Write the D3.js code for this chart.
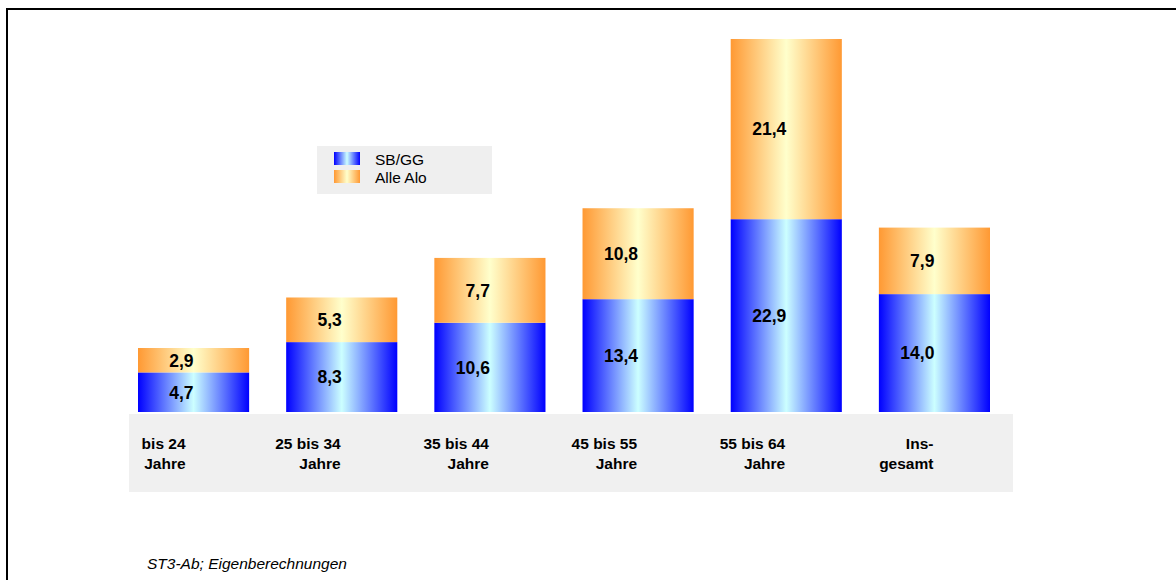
<!DOCTYPE html>
<html>
<head>
<meta charset="utf-8">
<script src="https://cdn.jsdelivr.net/npm/d3@7"></script>
<style>
  body { margin: 0; background: #fff; }
  svg { display: block; font-family: "Liberation Sans", Arial, sans-serif; }
</style>
</head>
<body>
<svg class="chart" width="1176" height="580"></svg>
<script>
/* data */
const categories = ['bis 24 Jahre', '25 bis 34 Jahre', '35 bis 44 Jahre', '45 bis 55 Jahre', '55 bis 64 Jahre', 'Insgesamt']
const catLines = [['bis 24', 'Jahre'], ['25 bis 34', 'Jahre'], ['35 bis 44', 'Jahre'], ['45 bis 55', 'Jahre'], ['55 bis 64', 'Jahre'], ['Ins-', 'gesamt']]
const sbgg = [4.7, 8.3, 10.6, 13.4, 22.9, 14.0]
const alleAlo = [2.9, 5.3, 7.7, 10.8, 21.4, 7.9]
const seriesNames = ['SB/GG', 'Alle Alo']
const source = 'ST3-Ab; Eigenberechnungen'

const fmt = v => v.toFixed(1).replace('.', ',')

const svg = d3.select('.chart')

// gradients
const defs = svg.append('defs')
const grads = [
  { id: 'gBlue', edge: '#0000ff', mid: '#ccffff' },
  { id: 'gOrange', edge: '#ff9933', mid: '#ffffcc' }
]
grads.forEach(g => {
  const lg = defs.append('linearGradient').attr('id', g.id)
    .attr('x1', '0%').attr('x2', '100%').attr('y1', '0%').attr('y2', '0%')
  lg.append('stop').attr('offset', '0%').attr('stop-color', g.edge)
  lg.append('stop').attr('offset', '50%').attr('stop-color', g.mid)
  lg.append('stop').attr('offset', '100%').attr('stop-color', g.edge)
})

// frame (only top and left visible)
svg.append('path')
  .attr('d', 'M7,582 L7,9 L1180,9')
  .attr('fill', 'none').attr('stroke', '#000').attr('stroke-width', 2)

const x = d3.scaleBand().domain(categories).range([138, 990]).paddingInner(0.25).paddingOuter(0)
const y = d3.scaleLinear().domain([0, 45]).range([412, 412 - 45 * 8.42])

// category band
svg.append('rect')
  .attr('x', 129).attr('y', 414).attr('width', 884).attr('height', 78)
  .attr('fill', '#f0f0f0')

const rows = categories.map((c, i) => ({ c, a: sbgg[i], b: alleAlo[i], lines: catLines[i] }))

const g = svg.append('g')
const bars = g.selectAll('g.bar').data(rows).enter().append('g').attr('class', 'bar')

bars.append('rect')
  .attr('x', d => x(d.c)).attr('width', x.bandwidth())
  .attr('y', d => y(d.a)).attr('height', d => y(0) - y(d.a))
  .attr('fill', 'url(#gBlue)')

bars.append('rect')
  .attr('x', d => x(d.c)).attr('width', x.bandwidth())
  .attr('y', d => y(d.a + d.b)).attr('height', d => y(d.a) - y(d.a + d.b))
  .attr('fill', 'url(#gOrange)')

// value labels
bars.append('text')
  .attr('x', d => x(d.c) + x.bandwidth() / 2)
  .attr('y', d => (y(0) + y(d.a)) / 2)
  .attr('dy', '0.36em')
  .attr('text-anchor', 'end')
  .attr('font-size', '17.5px').attr('font-weight', 'bold')
  .text(d => fmt(d.a))

bars.append('text')
  .attr('x', d => x(d.c) + x.bandwidth() / 2)
  .attr('y', d => (y(d.a) + y(d.a + d.b)) / 2)
  .attr('dy', '0.36em')
  .attr('text-anchor', 'end')
  .attr('font-size', '17.5px').attr('font-weight', 'bold')
  .text(d => fmt(d.b))

// category labels (right-aligned near the bar centre)
bars.each(function (d, i) {
  const sel = d3.select(this)
  d.lines.forEach((t, j) => {
    sel.append('text')
      .attr('x', x(d.c) + x.bandwidth() / 2 - (i === 0 ? 8 : 1))
      .attr('y', 449 + j * 20)
      .attr('text-anchor', 'end')
      .attr('font-size', '15.5px').attr('font-weight', 'bold')
      .text(t)
  })
})

// legend
const leg = svg.append('g').attr('transform', 'translate(317,146)')
leg.append('rect').attr('width', 175).attr('height', 48).attr('fill', '#efefef')
const fills = ['url(#gBlue)', 'url(#gOrange)']
seriesNames.forEach((s, i) => {
  leg.append('rect').attr('x', 17).attr('y', 6 + i * 18).attr('width', 26).attr('height', 13).attr('fill', fills[i])
  leg.append('text').attr('x', 58).attr('y', 18.5 + i * 18).attr('font-size', '15.5px').text(s)
})

// source
svg.append('text')
  .attr('x', 147).attr('y', 569)
  .attr('font-size', '15.5px').attr('font-style', 'italic')
  .text(source)
</script>
</body>
</html>
